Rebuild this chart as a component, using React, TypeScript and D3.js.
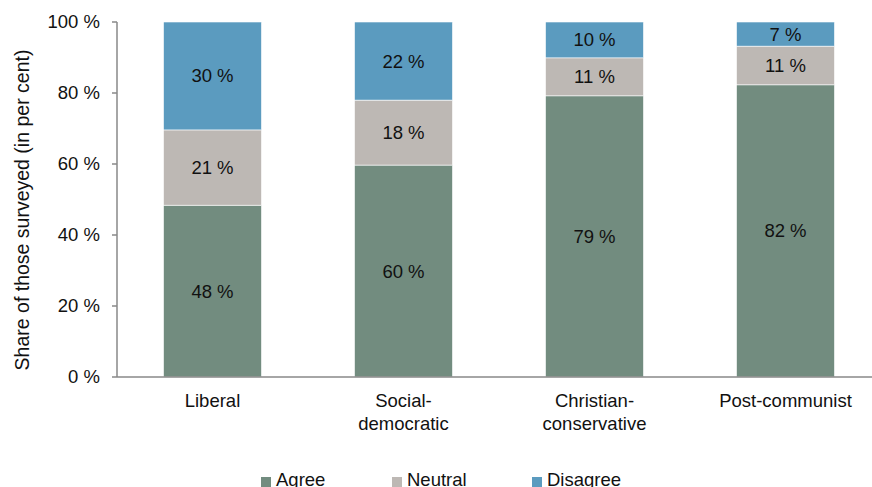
import React from "react";
import * as d3 from "d3";

const categories = [["Liberal"], ["Social-", "democratic"], ["Christian-", "conservative"], ["Post-communist"]];
const seriesNames = ["Agree", "Neutral", "Disagree"];
const agree = [48.4, 59.7, 79.2, 82.3];
const neutral = [21.2, 18.3, 10.7, 10.9];
const disagree = [30.4, 22.0, 10.1, 6.8];
const agreeLabels = ["48 %", "60 %", "79 %", "82 %"];
const neutralLabels = ["21 %", "18 %", "11 %", "11 %"];
const disagreeLabels = ["30 %", "22 %", "10 %", "7 %"];
const yTicks = [0, 20, 40, 60, 80, 100];
const colors = ["#728c7f", "#bdb8b4", "#5b9bbf"];

const W = 872, H = 487;
const left = 117, top = 22, bottom = 377;
const font = "Liberation Sans, Arial, sans-serif";
const fs = 18.5;

export default function App() {
  const keys = categories.map((c) => c.join(""));
  const x = d3.scaleBand<string>().domain(keys).range([left, left + 764]).paddingInner(0.487).paddingOuter(0.2435);
  const y = d3.scaleLinear().domain([0, 100]).range([bottom, top]);
  const rows = keys.map((k, i) => ({ key: k, Agree: agree[i], Neutral: neutral[i], Disagree: disagree[i] }));
  const stack = d3.stack<any>().keys(seriesNames)(rows);
  const labels = [agreeLabels, neutralLabels, disagreeLabels];
  const legendX = [261, 392, 532];
  return (
    <svg width={W} height={H} style={{ position: "absolute", left: 0, top: 0 }} fontFamily={font}>
      <rect width={W} height={H} fill="#fff" />
      {stack.map((s, si) => (
        <g key={si}>
          {s.map((d, i) => (
            <g key={i}>
              <rect x={x(keys[i])!} width={x.bandwidth()} y={y(d[1])} height={y(d[0]) - y(d[1])} fill={colors[si]} stroke="#fff" strokeWidth={0.6} />
              <text x={x(keys[i])! + x.bandwidth() / 2} y={(y(d[0]) + y(d[1])) / 2} dy="0.35em" textAnchor="middle" fontSize={fs} fill="#111">{labels[si][i]}</text>
            </g>
          ))}
        </g>
      ))}
      <line x1={left} x2={left} y1={top} y2={bottom} stroke="#898989" strokeWidth={1.5} />
      <line x1={left} x2={W} y1={bottom} y2={bottom} stroke="#898989" strokeWidth={1.5} />
      {yTicks.map((t) => (
        <g key={t}>
          <line x1={left - 5} x2={left} y1={y(t)} y2={y(t)} stroke="#898989" strokeWidth={1.5} />
          <text x={100} y={y(t)} dy="0.35em" textAnchor="end" fontSize={fs} fill="#111">{t} %</text>
        </g>
      ))}
      {categories.map((c, i) => (
        <text key={i} x={x(keys[i])! + x.bandwidth() / 2} y={407} textAnchor="middle" fontSize={fs} fill="#111">
          {c.map((line, li) => (
            <tspan key={li} x={x(keys[i])! + x.bandwidth() / 2} dy={li === 0 ? 0 : 23}>{line}</tspan>
          ))}
        </text>
      ))}
      <text transform={`translate(29,210) rotate(-90)`} textAnchor="middle" fontSize={19.5} fill="#111">Share of those surveyed (in per cent)</text>
      {seriesNames.map((n, i) => (
        <g key={n}>
          <rect x={legendX[i]} y={477} width={10} height={10} fill={colors[i]} />
          <text x={legendX[i] + 15} y={486} fontSize={fs} fill="#111">{n}</text>
        </g>
      ))}
    </svg>
  );
}
